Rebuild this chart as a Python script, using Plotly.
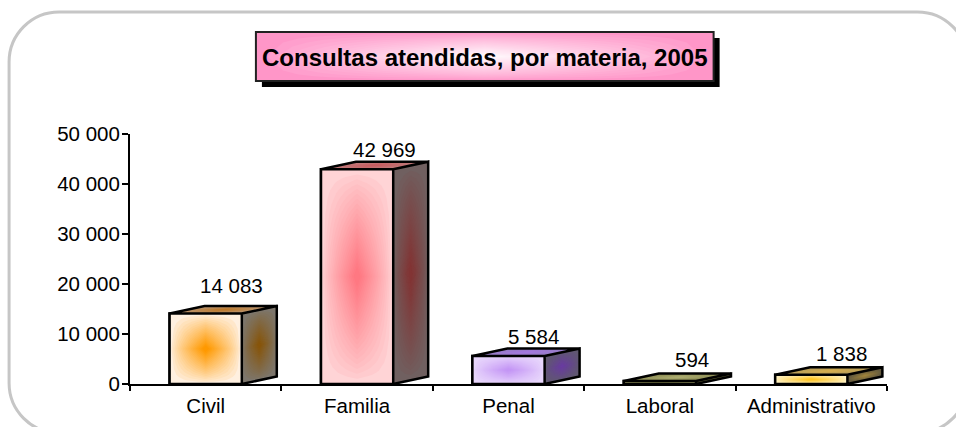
import plotly.graph_objects as go

# ---- data ----
categories = ["Civil", "Familia", "Penal", "Laboral", "Administrativo"]
values = [14083, 42969, 5584, 594, 1838]
y_ticks = [0, 10000, 20000, 30000, 40000, 50000]
y_tick_labels = ["0", "10 000", "20 000", "30 000", "40 000", "50 000"]
title_text = "Consultas atendidas, por materia, 2005"

# ---- style ----
W, H = 956, 427
L, R, T, B = 130, 887.5, 134, 384
FONT = "Liberation Sans, Arial, sans-serif"
FS = 20.5
BAR_W = 0.477
DX = 35 / ((R - L) / 5)      # depth of the 3D box, in category units
DY = 7.5 * 50000 / (B - T)   # depth of the 3D box, in value units
# (edge, centre) colours per face
front_cols = [((255, 240, 224), (255, 153, 0)), ((255, 212, 214), (255, 120, 130)),
              ((232, 214, 252), (196, 150, 245)), ((200, 200, 130), (160, 160, 90)),
              ((255, 240, 190), (255, 195, 30))]
side_cols = [((125, 118, 108), (135, 85, 10)), ((112, 96, 96), (130, 52, 52)),
             ((96, 88, 112), (105, 60, 160)), ((90, 90, 50), (110, 110, 60)),
             ((96, 88, 64), (160, 132, 60))]
top_cols = [((185, 150, 115), (190, 120, 40)), ((190, 125, 125), (200, 90, 95)),
            ((150, 125, 195), (165, 120, 225)), ((140, 140, 85), (175, 175, 115)),
            ((180, 155, 90), (215, 175, 80))]
label_shift = [(25.5, 28), (27, 20), (25, 20), (32, 22), (30, 21.5)]
LEVELS = [0.05 + 0.045 * k for k in range(20)]


def mix(a, b, t):
    return "rgb(%d,%d,%d)" % tuple(round(a[k] + (b[k] - a[k]) * t) for k in range(3))


def shade(level):
    return (level / LEVELS[-1]) ** 0.8


def star(level, n=14):
    """Contour (1-|u|)(1-|v|) = level, as (u, v) points of a closed path."""
    q = []
    for k in range(n + 1):
        a = (1 - level) * k / n
        q.append((a, 1 - level / (1 - a)))
    pts = q + [(u, -v) for u, v in reversed(q)][1:]
    pts += [(-u, -v) for u, v in q][1:]
    pts += [(-u, v) for u, v in reversed(q)][1:]
    return pts


def bilinear(corners, u, v):
    """corners = lower-left, lower-right, upper-right, upper-left."""
    s, t = (u + 1) / 2, (v + 1) / 2
    (x0, y0), (x1, y1), (x2, y2), (x3, y3) = corners
    return ((1 - s) * (1 - t) * x0 + s * (1 - t) * x1 + s * t * x2 + (1 - s) * t * x3,
            (1 - s) * (1 - t) * y0 + s * (1 - t) * y1 + s * t * y2 + (1 - s) * t * y3)


fig = go.Figure()
idx = list(range(len(categories)))

fig.add_trace(go.Bar(
    x=idx, y=values, width=BAR_W,
    marker=dict(color=[mix(c[0], c[0], 0) for c in front_cols], line=dict(color="black", width=2.5)),
    hoverinfo="skip", showlegend=False))


def poly(xs, ys, fill, line=None, width=0):
    fig.add_trace(go.Scatter(
        x=xs, y=ys, mode="lines", fill="toself", fillcolor=fill,
        line=dict(color=line or "rgba(0,0,0,0)", width=width),
        hoverinfo="skip", showlegend=False))


def shaded(corners, cols):
    poly([c[0] for c in corners] + [corners[0][0]], [c[1] for c in corners] + [corners[0][1]], mix(*cols, 0))
    for lv in LEVELS:
        pts = [bilinear(corners, u, v) for u, v in star(lv)]
        poly([p[0] for p in pts], [p[1] for p in pts], mix(*cols, shade(lv)))


for i, v in zip(idx, values):
    x0, x1 = i - BAR_W / 2, i + BAR_W / 2
    front = [(x0, 0), (x1, 0), (x1, v), (x0, v)]
    side = [(x1, 0), (x1 + DX, DY), (x1 + DX, v + DY), (x1, v)]
    top = [(x0, v), (x1, v), (x1 + DX, v + DY), (x0 + DX, v + DY)]
    shaded(front, front_cols[i])
    shaded(side, side_cols[i])
    shaded(top, top_cols[i])
    # box outline
    xs = [x0, x1, x1 + DX, x1 + DX, x1, x1, x0, x0, x0 + DX, x1 + DX, x1, x0, x0, x1, x1]
    ys = [0, 0, DY, v + DY, v, 0, 0, v, v + DY, v + DY, v, v, 0, 0, v]
    fig.add_trace(go.Scatter(x=xs, y=ys, mode="lines", line=dict(color="black", width=2.5),
                             hoverinfo="skip", showlegend=False))


def px(x):
    return (x - L) / (R - L)


def py(y):
    return (B - y) / (B - T)


shapes = []


def path_from(points):
    return "M " + " L ".join(f"{px(x):.5f},{py(y):.5f}" for x, y in points) + " Z"


# rounded frame running past the page edge
fx0, fx1, fy0, fy1, r, k = 9, 968, 12, 433, 50, 0.5523
frame = (f"M {px(fx0 + r)},{py(fy0)} L {px(fx1 - r)},{py(fy0)} "
         f"C {px(fx1 - r + k * r)},{py(fy0)} {px(fx1)},{py(fy0 + r - k * r)} {px(fx1)},{py(fy0 + r)} "
         f"L {px(fx1)},{py(fy1 - r)} "
         f"C {px(fx1)},{py(fy1 - r + k * r)} {px(fx1 - r + k * r)},{py(fy1)} {px(fx1 - r)},{py(fy1)} "
         f"L {px(fx0 + r)},{py(fy1)} "
         f"C {px(fx0 + r - k * r)},{py(fy1)} {px(fx0)},{py(fy1 - r + k * r)} {px(fx0)},{py(fy1 - r)} "
         f"L {px(fx0)},{py(fy0 + r)} "
         f"C {px(fx0)},{py(fy0 + r - k * r)} {px(fx0 + r - k * r)},{py(fy0)} {px(fx0 + r)},{py(fy0)} Z")
shapes.append(dict(type="path", xref="paper", yref="paper", path=frame,
                   line=dict(color="#c6c6c6", width=3), fillcolor="rgba(0,0,0,0)", layer="below"))

# title box: shadow, gradient, border
bx0, bx1, by0, by1 = 256, 714, 32, 81
edge, centre = (255, 150, 200), (255, 245, 250)
shapes.append(dict(type="rect", xref="paper", yref="paper", x0=px(bx0 + 6), x1=px(bx1 + 6),
                   y0=py(by0 + 6), y1=py(by1 + 6), fillcolor="black", line=dict(width=0), layer="below"))
shapes.append(dict(type="rect", xref="paper", yref="paper", x0=px(bx0), x1=px(bx1),
                   y0=py(by0), y1=py(by1), fillcolor=mix(edge, centre, 0), line=dict(width=0), layer="below"))
box = [(bx0, by1), (bx1, by1), (bx1, by0), (bx0, by0)]
for lv in LEVELS:
    pts = [bilinear(box, u, v) for u, v in star(lv)]
    shapes.append(dict(type="path", xref="paper", yref="paper", path=path_from(pts),
                       fillcolor=mix(edge, centre, shade(lv)), line=dict(width=0), layer="below"))
shapes.append(dict(type="rect", xref="paper", yref="paper", x0=px(bx0), x1=px(bx1),
                   y0=py(by0), y1=py(by1), fillcolor="rgba(0,0,0,0)",
                   line=dict(color="#222222", width=2), layer="below"))

annotations = [dict(
    x=px((bx0 + bx1) / 2), y=py((by0 + by1) / 2 + 1), xref="paper", yref="paper", text=f"<b>{title_text}</b>",
    showarrow=False, xanchor="center", yanchor="middle",
    font=dict(family=FONT, size=24, color="black"))]
for i, v in zip(idx, values):
    annotations.append(dict(
        x=i, y=v, xref="x", yref="y", text=f"{v:,}".replace(",", " "), showarrow=False,
        xanchor="center", yanchor="middle", xshift=label_shift[i][0], yshift=label_shift[i][1],
        font=dict(family=FONT, size=FS, color="black")))

fig.update_layout(
    width=W, height=H, autosize=False,
    margin=dict(l=L, r=W - R, t=T, b=H - B, pad=0, autoexpand=False),
    paper_bgcolor="white", plot_bgcolor="rgba(0,0,0,0)",
    font=dict(family=FONT, size=FS, color="black"),
    showlegend=False, shapes=shapes, annotations=annotations, bargap=0.5,
    xaxis=dict(range=[-0.5, 4.5], tickmode="array", tickvals=idx, ticktext=categories,
               ticks="", ticklen=0, showgrid=False, zeroline=False, showline=True, automargin=False,
               linecolor="black", linewidth=2, ticklabelstandoff=2,
               minor=dict(tickmode="array", tickvals=[k - 0.5 for k in range(6)], ticks="outside",
                          ticklen=5, tickwidth=2, tickcolor="black", showgrid=False)),
    yaxis=dict(range=[0, 50000], tickmode="array", tickvals=y_ticks, ticktext=y_tick_labels,
               ticks="outside", ticklen=6, tickwidth=2, tickcolor="black", showgrid=False, automargin=False,
               zeroline=False, showline=True, linecolor="black", linewidth=2, ticklabelstandoff=-2),
)

fig.write_html("out.html", config=dict(displayModeBar=False),
               post_script="document.body.style.margin='0';document.body.style.overflow='hidden';")
